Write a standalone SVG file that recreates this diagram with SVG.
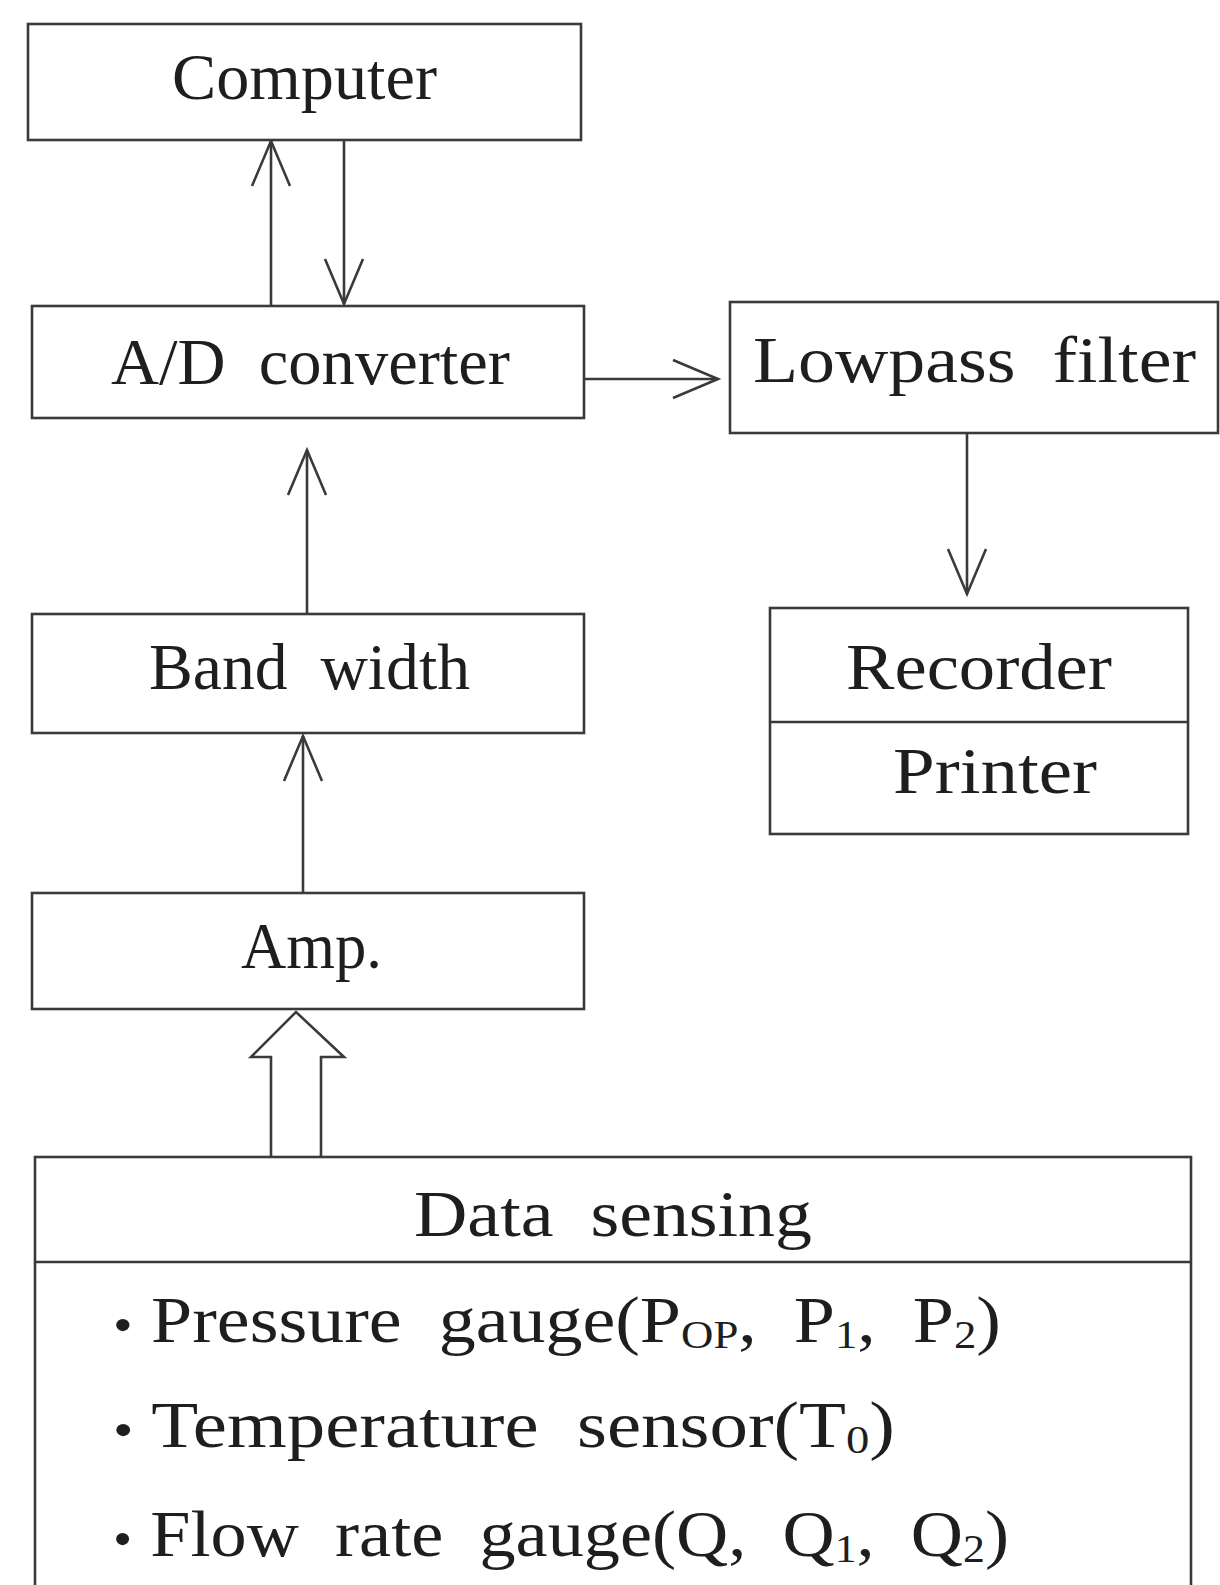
<svg xmlns="http://www.w3.org/2000/svg" width="1220" height="1585" viewBox="0 0 1220 1585">
<style>
.box{fill:#fff;stroke:#3a3a3a;stroke-width:2.6}
.ln{fill:none;stroke:#3a3a3a;stroke-width:2.6}
.t{font-family:"Liberation Serif","Times New Roman",serif;font-size:66px;fill:#1e1e1e;white-space:pre}
.s{font-size:40px}
.b{font-size:50px}
</style>
<defs>
<marker id="v" markerUnits="userSpaceOnUse" markerWidth="60" markerHeight="50" viewBox="-50 -25 60 50" refX="0" refY="0" orient="auto">
<path d="M -45 -19 L 0 0 L -45 19" fill="none" stroke="#3a3a3a" stroke-width="2.6"/>
</marker>
</defs>
<rect width="1220" height="1585" fill="#fff"/>
<g id="connectors">
<line class="ln" x1="271" y1="306" x2="271" y2="141" marker-end="url(#v)"/>
<line class="ln" x1="344" y1="141" x2="344" y2="304" marker-end="url(#v)"/>
<line class="ln" x1="584" y1="379" x2="718" y2="379" marker-end="url(#v)"/>
<line class="ln" x1="967" y1="433" x2="967" y2="594" marker-end="url(#v)"/>
<line class="ln" x1="307" y1="614" x2="307" y2="450" marker-end="url(#v)"/>
<line class="ln" x1="303" y1="893" x2="303" y2="736" marker-end="url(#v)"/>
<path class="ln" d="M 271 1157 L 271 1057 L 251 1057 L 296 1012 L 344 1057 L 321 1057 L 321 1157"/>
</g>
<g id="computer">
<rect class="box" x="28" y="24" width="553" height="116"/>
<text class="t" x="172" y="99" textLength="265" lengthAdjust="spacingAndGlyphs">Computer</text>
</g>
<g id="ad-converter">
<rect class="box" x="32" y="306" width="552" height="112"/>
<text class="t" x="111" y="384" textLength="399" lengthAdjust="spacingAndGlyphs" xml:space="preserve">A/D  converter</text>
</g>
<g id="lowpass-filter">
<rect class="box" x="730" y="302" width="488" height="131"/>
<text class="t" x="753" y="382" font-size="70" textLength="443" lengthAdjust="spacingAndGlyphs" xml:space="preserve">Lowpass  filter</text>
</g>
<g id="recorder-printer">
<rect class="box" x="770" y="608" width="418" height="226"/>
<line class="ln" x1="770" y1="722" x2="1188" y2="722"/>
<text class="t" x="846" y="689" textLength="266" lengthAdjust="spacingAndGlyphs">Recorder</text>
<text class="t" x="893" y="793" textLength="204" lengthAdjust="spacingAndGlyphs">Printer</text>
</g>
<g id="band-width">
<rect class="box" x="32" y="614" width="552" height="119"/>
<text class="t" x="149" y="689" textLength="321" lengthAdjust="spacingAndGlyphs" xml:space="preserve">Band  width</text>
</g>
<g id="amp">
<rect class="box" x="32" y="893" width="552" height="116"/>
<text class="t" x="241" y="968" textLength="141" lengthAdjust="spacingAndGlyphs">Amp.</text>
</g>
<g id="data-sensing">
<rect class="box" x="35" y="1157" width="1156" height="460"/>
<line class="ln" x1="35" y1="1262" x2="1191" y2="1262"/>
<text class="t" x="414" y="1236" textLength="398" lengthAdjust="spacingAndGlyphs" xml:space="preserve">Data  sensing</text>
<text class="t" x="113" y="1342" textLength="888" lengthAdjust="spacingAndGlyphs" xml:space="preserve"><tspan class="b">•</tspan> Pressure  gauge(P<tspan class="s" dy="6">OP</tspan><tspan dy="-6">,  P</tspan><tspan class="s" dy="6">1</tspan><tspan dy="-6">,  P</tspan><tspan class="s" dy="6">2</tspan><tspan dy="-6">)</tspan></text>
<text class="t" x="113" y="1447" textLength="782" lengthAdjust="spacingAndGlyphs" xml:space="preserve"><tspan class="b">•</tspan> Temperature  sensor(T<tspan class="s" dy="6">0</tspan><tspan dy="-6">)</tspan></text>
<text class="t" x="113" y="1556" textLength="896" lengthAdjust="spacingAndGlyphs" xml:space="preserve"><tspan class="b">•</tspan> Flow  rate  gauge(Q,  Q<tspan class="s" dy="6">1</tspan><tspan dy="-6">,  Q</tspan><tspan class="s" dy="6">2</tspan><tspan dy="-6">)</tspan></text>
</g>
</svg>
